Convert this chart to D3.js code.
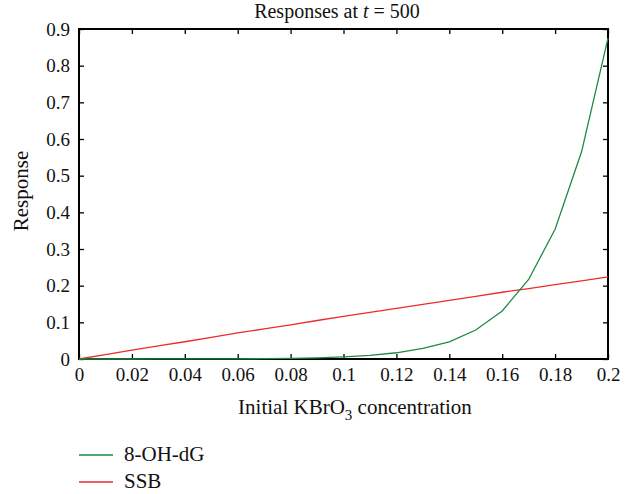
<!DOCTYPE html>
<html>
<head>
<meta charset="utf-8">
<script src="https://cdn.jsdelivr.net/npm/d3@7"></script>
<style>
  body { margin: 0; background: #fff; }
  text { font-family: "Liberation Serif", "DejaVu Serif", serif; fill: #111; }
</style>
</head>
<body>
<svg id="chart" width="630" height="494"></svg>
<script>
// concentration values (x)
var conc = [0, 0.01, 0.02, 0.03, 0.04, 0.05, 0.06, 0.07, 0.08, 0.09, 0.1,
            0.11, 0.12, 0.13, 0.14, 0.15, 0.16, 0.17, 0.18, 0.19, 0.2];
// 8-OH-dG response
var ohdg = [0, 0, 0, 0.0001, 0.0001, 0.0002, 0.0004, 0.0008, 0.0015, 0.003, 0.006,
            0.010, 0.017, 0.029, 0.047, 0.079, 0.131, 0.217, 0.354, 0.565, 0.875];
// SSB response
var ssb = [0, 0.012, 0.024, 0.036, 0.047, 0.059, 0.071, 0.082, 0.093, 0.105, 0.116,
           0.127, 0.138, 0.149, 0.160, 0.171, 0.182, 0.192, 0.203, 0.213, 0.224];

var xTicks = [0, 0.02, 0.04, 0.06, 0.08, 0.1, 0.12, 0.14, 0.16, 0.18, 0.2];
var yTicks = [0, 0.1, 0.2, 0.3, 0.4, 0.5, 0.6, 0.7, 0.8, 0.9];

var green = "#1f8a43", red = "#ee2a2a";

var svg = d3.select("#chart");
var pL = 79, pR = 608, pT = 29, pB = 359;

var x = d3.scaleLinear().domain([0, 0.2]).range([pL, pR]);
var y = d3.scaleLinear().domain([0, 0.9]).range([pB, pT]);

var fmt = function(d) { return d === 0 ? "0" : String(d); };

// axes, ticks pointing inward
svg.append("g").attr("transform", "translate(0," + pB + ")")
  .call(d3.axisBottom(x).tickValues(xTicks).tickFormat(fmt).tickSizeInner(-5).tickSizeOuter(0).tickPadding(9));
svg.append("g").attr("transform", "translate(0," + pT + ")")
  .call(d3.axisTop(x).tickValues(xTicks).tickFormat("").tickSizeInner(-5).tickSizeOuter(0));
svg.append("g").attr("transform", "translate(" + pL + ",0)")
  .call(d3.axisLeft(y).tickValues(yTicks).tickFormat(fmt).tickSizeInner(-5).tickSizeOuter(0).tickPadding(9));
svg.append("g").attr("transform", "translate(" + pR + ",0)")
  .call(d3.axisRight(y).tickValues(yTicks).tickFormat("").tickSizeInner(-5).tickSizeOuter(0));

svg.selectAll(".domain").remove();
svg.selectAll(".tick line").attr("stroke", "#000").attr("stroke-width", 1.3);
svg.selectAll(".tick text").style("font-size", "19px").attr("fill", "#111");

svg.append("rect")
  .attr("x", pL).attr("y", pT)
  .attr("width", pR - pL).attr("height", pB - pT)
  .attr("fill", "none").attr("stroke", "#000").attr("stroke-width", 2);

var line = d3.line().x(function(d) { return x(d[0]); }).y(function(d) { return y(d[1]); });

svg.append("path")
  .datum(conc.map(function(c, i) { return [c, ssb[i]]; }))
  .attr("d", line).attr("fill", "none").attr("stroke", red).attr("stroke-width", 1.3);
svg.append("path")
  .datum(conc.map(function(c, i) { return [c, ohdg[i]]; }))
  .attr("d", line).attr("fill", "none").attr("stroke", green).attr("stroke-width", 1.3);

// title
var title = svg.append("text").attr("x", 337).attr("y", 18)
  .attr("text-anchor", "middle").style("font-size", "20px");
title.append("tspan").text("Responses at ");
title.append("tspan").style("font-style", "italic").text("t");
title.append("tspan").text(" = 500");

// axis labels
svg.append("text").attr("transform", "translate(28,191) rotate(-90)")
  .attr("text-anchor", "middle").style("font-size", "21px").text("Response");

var xl = svg.append("text").attr("x", 355).attr("y", 414)
  .attr("text-anchor", "middle").style("font-size", "21px");
xl.append("tspan").text("Initial KBrO");
xl.append("tspan").attr("dy", 6).style("font-size", "15px").text("3");
xl.append("tspan").attr("dy", -6).text(" concentration");

// legend
var legend = [["8-OH-dG", green], ["SSB", red]];
legend.forEach(function(l, i) {
  var ly = 455 + i * 27;
  svg.append("line").attr("x1", 79).attr("x2", 113).attr("y1", ly).attr("y2", ly)
    .attr("stroke", l[1]).attr("stroke-width", 1.3);
  svg.append("text").attr("x", 124).attr("y", ly + 6).style("font-size", "21px").text(l[0]);
});
</script>
</body>
</html>
